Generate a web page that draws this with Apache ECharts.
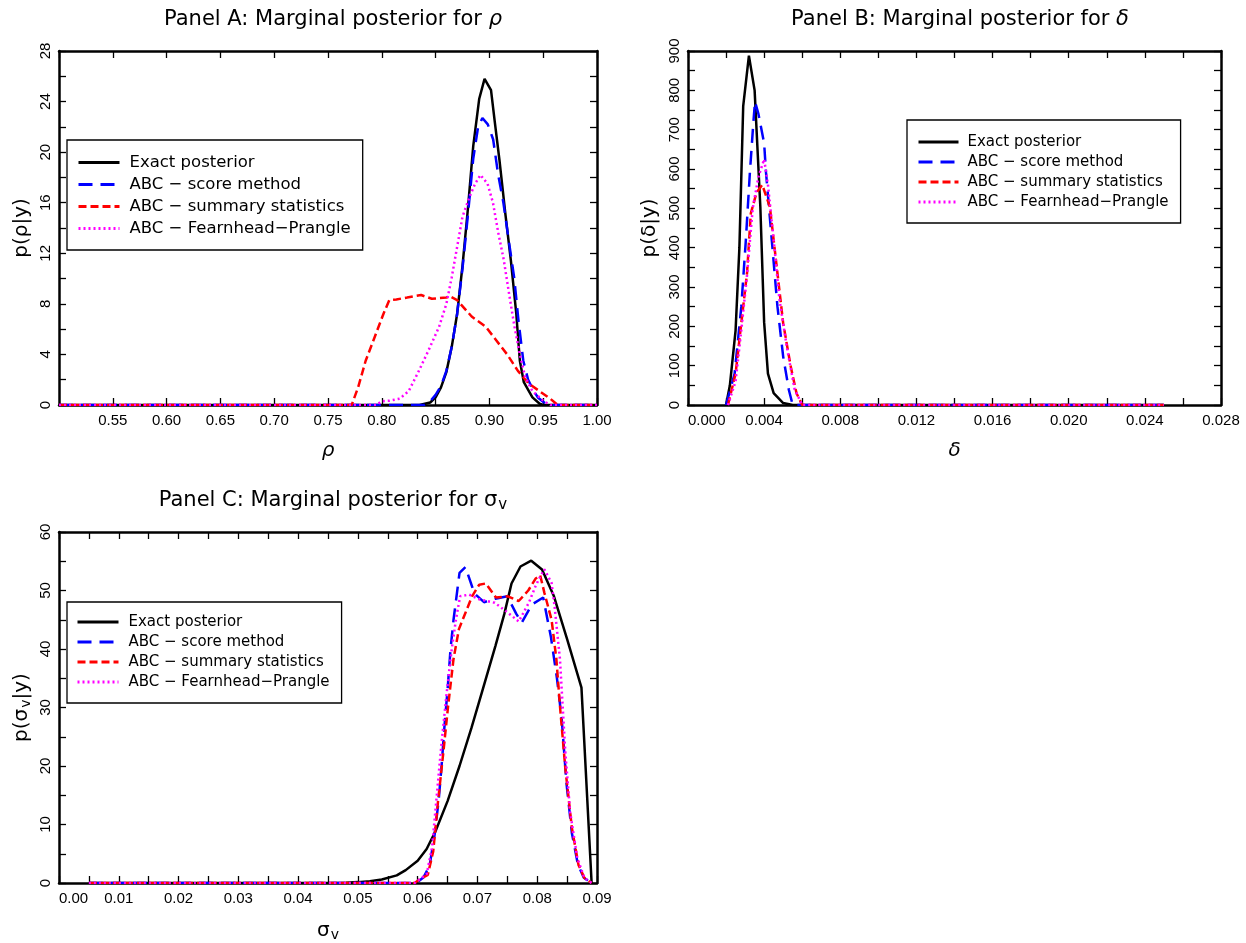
<!DOCTYPE html>
<html><head><meta charset="utf-8">
<script src="https://cdn.jsdelivr.net/npm/echarts@6/dist/echarts.min.js"></script>
<style>html,body{margin:0;padding:0;background:#fff}#c{width:1246px;height:943px}</style>
</head><body><div id="c"></div>
<script>
// ---------- data ----------
const seriesNames = ['Exact posterior', 'ABC − score method', 'ABC − summary statistics', 'ABC − Fearnhead−Prangle'];

// Panel A: rho
const rhoExact = [[0.5,0],[0.835,0],[0.845,0.2],[0.85,0.6],[0.855,1.4],[0.86,2.6],[0.865,4.6],[0.87,7.2],[0.875,11],[0.88,15.5],[0.885,20.5],[0.8905,24.2],[0.8955,25.8],[0.9015,24.9],[0.905,22.4],[0.9093,19.4],[0.915,15],[0.92,11.4],[0.925,7.2],[0.9283,3.5],[0.932,1.8],[0.9367,1.1],[0.94,0.6],[0.9467,0.1],[0.95,0],[1.0,0]];
const rhoScore = [[0.5,0],[0.84,0],[0.845,0.3],[0.85,0.8],[0.855,1.5],[0.86,2.7],[0.865,4.6],[0.87,7.2],[0.875,10.8],[0.88,15],[0.885,19.5],[0.8895,22.0],[0.8935,22.7],[0.8985,22.2],[0.9035,21],[0.908,18.3],[0.913,16],[0.918,13],[0.923,10.1],[0.927,6.7],[0.9315,3.5],[0.936,2.0],[0.94,1.3],[0.945,0.6],[0.95,0.25],[0.955,0],[1.0,0]];
const rhoSummary = [[0.5,0],[0.772,0],[0.778,1.4],[0.785,3.5],[0.7935,5.4],[0.8015,7.2],[0.807,8.3],[0.8135,8.35],[0.8235,8.5],[0.8365,8.7],[0.8465,8.4],[0.86,8.5],[0.8635,8.6],[0.87,8.3],[0.8835,7.0],[0.8965,6.2],[0.9065,5.1],[0.9165,4.0],[0.9265,2.7],[0.9365,1.7],[0.9465,1.1],[0.9565,0.5],[0.9635,0],[1.0,0]];
const rhoFP = [[0.5,0],[0.795,0],[0.8,0.3],[0.807,0.34],[0.8167,0.5],[0.825,1.1],[0.8333,2.5],[0.8433,4.3],[0.8533,6.2],[0.86,8.0],[0.865,10.1],[0.87,12.5],[0.875,14.9],[0.8817,16.5],[0.8867,17.5],[0.8917,18.2],[0.8983,17.5],[0.9033,16],[0.9083,13.6],[0.9133,11.5],[0.9183,8.8],[0.9233,6.2],[0.9283,4.0],[0.9333,2.2],[0.94,1.1],[0.95,0.34],[0.9567,0],[1.0,0]];

// Panel B: delta
const delExact = [[0.002,0],[0.0022,50],[0.0025,190],[0.0027,400],[0.0029,760],[0.0032,888],[0.0035,800],[0.0038,504],[0.004,210],[0.0042,80],[0.0045,30],[0.005,5],[0.0055,0],[0.025,0]];
const delScore = [[0.002,0],[0.00245,80],[0.0028,250],[0.00304,420],[0.00325,590],[0.00343,716],[0.00352,771],[0.0037,740],[0.004,665],[0.0041,590],[0.0044,420],[0.0047,250],[0.005,123],[0.0053,38],[0.0055,0],[0.025,0]];
const delSummary = [[0.0021,0],[0.0025,80],[0.0028,208],[0.0031,335],[0.0033,487],[0.0036,540],[0.0039,560],[0.0043,504],[0.0047,335],[0.005,208],[0.0054,97],[0.0057,30],[0.006,0],[0.025,0]];
const delFP = [[0.0021,0],[0.0025,60],[0.0028,190],[0.0031,330],[0.0034,500],[0.0037,580],[0.004,625],[0.0042,560],[0.0045,420],[0.0048,270],[0.0052,145],[0.0056,40],[0.006,0],[0.025,0]];

// Panel C: sigma_v
const sigExact = [[0.005,0],[0.045,0],[0.048,0.05],[0.05,0.15],[0.052,0.3],[0.054,0.6],[0.0565,1.3],[0.058,2.2],[0.06,3.8],[0.0615,5.8],[0.063,8.9],[0.065,14],[0.067,20],[0.069,26.5],[0.071,33.5],[0.073,40.5],[0.0745,46],[0.0757,51.2],[0.0772,54.1],[0.079,55.1],[0.0808,53.6],[0.0828,49.0],[0.085,41.7],[0.0874,33.4],[0.0891,0]];
const sigScore = [[0.005,0],[0.059,0],[0.06,0.2],[0.061,1],[0.062,3],[0.0628,8],[0.0635,14],[0.064,20],[0.0645,27],[0.065,33],[0.0655,40],[0.066,45],[0.0665,49],[0.067,53],[0.068,54],[0.0695,49.5],[0.0711,48.0],[0.073,48.6],[0.075,49],[0.0765,46],[0.0774,44.5],[0.0791,47.6],[0.081,48.8],[0.0823,42],[0.0833,35],[0.0841,28],[0.0849,17],[0.0858,8.5],[0.0868,3.2],[0.0878,0.9],[0.0891,0]];
const sigSummary = [[0.005,0],[0.0595,0],[0.0603,0.6],[0.0617,1.4],[0.0626,5.4],[0.0634,13.9],[0.0643,22.4],[0.0651,30.3],[0.066,38.3],[0.0669,43.4],[0.068,46.2],[0.0691,49],[0.0703,51],[0.0714,51.2],[0.0731,48.8],[0.0751,49],[0.0769,48.2],[0.0785,50],[0.0797,52],[0.0805,52.6],[0.0812,49.6],[0.0824,45],[0.0832,38.3],[0.0838,30.3],[0.0847,19.6],[0.0858,9.4],[0.0869,3.1],[0.0879,0.85],[0.0891,0]];
const sigFP = [[0.005,0],[0.0595,0],[0.0603,0.6],[0.0615,1.5],[0.0624,6],[0.0632,15],[0.064,24],[0.0648,32],[0.0657,40],[0.0664,45],[0.0671,49],[0.0686,49.3],[0.0703,48.5],[0.0729,47.9],[0.0751,46.2],[0.0769,44.7],[0.0786,47.9],[0.0797,50.7],[0.0805,52.4],[0.0812,53.6],[0.0824,51.3],[0.0829,47.3],[0.0838,38.3],[0.0847,22.4],[0.0855,12.2],[0.0867,4.3],[0.0879,0.85],[0.0891,0]];

// ---------- styling ----------
const HFONT = 'DejaVu Sans';
const TFONT = 'Liberation Sans';
const lineStyles = [
  {color: '#000000', type: 'solid'},
  {color: '#0000ff', type: [14, 8]},
  {color: '#ff0000', type: [8, 4]},
  {color: '#ff00ff', type: [2, 3]}
];

const grids = [
  {left: 59, top: 51, width: 538, height: 354},
  {left: 688, top: 51, width: 533, height: 354},
  {left: 59, top: 532, width: 538, height: 353}
];

function baseAxis(gridIndex, min, max, interval, position) {
  return {
    type: 'value', gridIndex, min, max, interval, position,
    axisLine: {show: true, onZero: false, lineStyle: {color: '#000', width: 2.5}},
    axisTick: {show: true, inside: true, length: 7, lineStyle: {color: '#000', width: 1.3}},
    minorTick: {show: true, splitNumber: 2, length: 7, lineStyle: {color: '#000', width: 1.3}},
    splitLine: {show: false}, minorSplitLine: {show: false},
    axisLabel: {show: false}
  };
}
const subRich = {sub: {fontFamily: HFONT, fontSize: 14, padding: [9, 0, 0, 1], verticalAlign: 'bottom'}};

function xMain(gi, min, max, interval, digits, name, opts) {
  const a = baseAxis(gi, min, max, interval, 'bottom');
  if (opts.noMinor) a.minorTick.show = false;
  a.axisLabel = Object.assign({show: true, color: '#000', fontFamily: TFONT, fontSize: 15, margin: 8,
    formatter: v => Number(v).toFixed(digits)}, opts.label || {});
  a.name = name; a.nameLocation = 'middle'; a.nameGap = opts.nameGap || 36;
  a.nameTextStyle = Object.assign({fontFamily: HFONT, fontSize: 20, color: '#000', rich: subRich}, opts.nameStyle || {});
  return a;
}
function xMirror(gi, min, max, interval, noMinor) {
  const a = baseAxis(gi, min, max, interval, 'top');
  if (noMinor) a.minorTick.show = false;
  return a;
}
function yMain(gi, min, max, interval, name, gap) {
  const a = baseAxis(gi, min, max, interval, 'left');
  a.axisLabel = {show: true, color: '#000', fontFamily: TFONT, fontSize: 15, rotate: 90, margin: 6};
  a.name = name; a.nameLocation = 'middle'; a.nameGap = gap; a.nameRotate = 90;
  a.nameTextStyle = {fontFamily: HFONT, fontSize: 20, color: '#000', rich: {sub: {fontFamily: HFONT, fontSize: 14, padding: [9, 0, 0, 1], verticalAlign: 'bottom'}}};
  return a;
}
function yMirror(gi, min, max, interval) { return baseAxis(gi, min, max, interval, 'right'); }

const xAxes = [
  xMain(0, 0.5, 1.0, 0.05, 2, 'ρ', {noMinor: true, label: {showMinLabel: false}, nameStyle: {fontStyle: 'italic'}}),
  xMirror(0, 0.5, 1.0, 0.05, true),
  xMain(1, 0, 0.028, 0.004, 3, 'δ', {label: {alignMinLabel: 'left'}, nameStyle: {fontStyle: 'italic'}}),
  xMirror(1, 0, 0.028, 0.004, false),
  xMain(2, 0, 0.09, 0.01, 2, 'σ{sub|v}', {label: {alignMinLabel: 'left'}}),
  xMirror(2, 0, 0.09, 0.01, false)
];
const yAxes = [
  yMain(0, 0, 28, 4, 'p(ρ|y)', 27), yMirror(0, 0, 28, 4),
  yMain(1, 0, 900, 100, 'p(δ|y)', 28), yMirror(1, 0, 900, 100),
  yMain(2, 0, 60, 10, 'p(σ{sub|v}|y)', 26), yMirror(2, 0, 60, 10)
];

function mkSeries(k, data, axisIdx) {
  return {
    type: 'line', name: seriesNames[k], data,
    xAxisIndex: axisIdx, yAxisIndex: axisIdx,
    symbol: 'none', showSymbol: false, animation: false, z: 2 + k,
    lineStyle: {color: lineStyles[k].color, width: 2.5, type: lineStyles[k].type, cap: 'butt'},
    itemStyle: {color: lineStyles[k].color}
  };
}
const series = [];
[[rhoExact, rhoScore, rhoSummary, rhoFP], [delExact, delScore, delSummary, delFP], [sigExact, sigScore, sigSummary, sigFP]]
  .forEach((set, p) => set.forEach((d, k) => series.push(mkSeries(k, d, p * 2))));

function mkLegend(left, top, fontSize, itemGap, padding, itemWidth, textPad) {
  return {
    data: seriesNames, orient: 'vertical', left, top, padding, itemGap,
    itemWidth, itemHeight: 16, selectedMode: false,
    borderColor: '#000', borderWidth: 1.3, backgroundColor: '#fff',
    itemStyle: {opacity: 0, color: 'rgba(0,0,0,0)', borderWidth: 0},
    lineStyle: {width: 3},
    textStyle: {fontFamily: HFONT, fontSize, color: '#000', lineHeight: 16, padding: [0, 0, 0, textPad]}
  };
}

const titleStyle = {fontFamily: HFONT, fontSize: 21, fontWeight: 'normal', color: '#000',
  rich: {i: {fontFamily: HFONT, fontSize: 21, fontStyle: 'italic'}, sub: {fontFamily: HFONT, fontSize: 15, padding: [10, 0, 0, 1], verticalAlign: 'bottom'}}};

const option = {
  animation: false,
  backgroundColor: '#fff',
  title: [
    {text: 'Panel A: Marginal posterior for {i|ρ}', left: 328, top: 4, textAlign: 'center', textStyle: titleStyle},
    {text: 'Panel B: Marginal posterior for {i|δ}', left: 955, top: 4, textAlign: 'center', textStyle: titleStyle},
    {text: 'Panel C: Marginal posterior for σ{sub|v}', left: 328, top: 483, textAlign: 'center', textStyle: titleStyle}
  ],
  legend: [
    mkLegend(67, 140, 16.5, 5, [14, 12, 13, 10], 41, 5),
    mkLegend(907, 120, 15, 4, [14, 12, 13, 10], 40, 4),
    mkLegend(67, 602, 15, 4, [12, 12, 13, 9], 41, 5)
  ],
  grid: grids,
  xAxis: xAxes,
  yAxis: yAxes,
  series
};
const chart = echarts.init(document.getElementById('c'), null, {renderer: 'canvas'});
chart.setOption(option);
</script>
</body></html>
